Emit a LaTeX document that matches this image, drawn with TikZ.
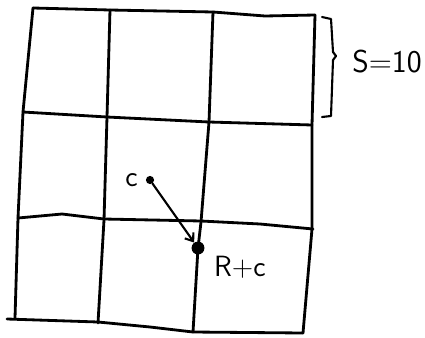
\documentclass[tikz,border=0pt]{standalone}
\usepackage{tikz}
\usetikzlibrary{arrows.meta, positioning}

\begin{document}
\begin{tikzpicture}[x=0.03cm, y=-0.03cm,
    pen/.style={line width=2.4pt, line join=round, line cap=round},
    pt/.style={circle, fill=black, inner sep=0pt, minimum size=#1},
    hand/.style={font=\fontsize{25}{27}\selectfont\sffamily, inner sep=1pt},
]
    \useasboundingbox (0,0) rectangle (425,337);

    % rows of the grid
    \draw[pen] (33,8) -- (110,10) -- (213,12) -- (265,16) -- (315,15);
    \draw[pen] (23,112) -- (107,117) -- (209,122) -- (312,125);
    \draw[pen] (18,218) -- (62,214) -- (104,219) -- (201,221) -- (260,224) -- (313,229);
    \draw[pen] (7,319) -- (98,322) -- (150,327) -- (193,332) -- (303,333);

    % columns of the grid
    \draw[pen] (33,8) -- (23,112) -- (18,218) -- (15,318);
    \draw[pen] (110,10) -- (107,117) -- (104,220) -- (98,323);
    \draw[pen] (213,12) -- (209,122) -- (201,222) -- (198,248) -- (193,332);
    \draw[pen] (315,15) -- (312,125) -- (312,229) -- (303,333);

    % bracket for one cell
    \draw[pen, line width=1.8pt] (322,17) -- (331,19) -- (333,52) -- (336,56) -- (333,60) -- (331,116) -- (322,117);
    \node[hand, font=\fontsize{27}{29}\selectfont\sffamily] (size) at (387,62) {S=10};

    % points and move
    \node[pt=7pt] (c) at (150,180) {};
    \node[hand, left=0.2cm of c] (clabel) {c};
    \node[pt=11pt] (rc) at (198,248) {};
    \node[hand, below right=0.05cm and 0.3cm of rc] (rclabel) {R+c};
    \draw[pen, line width=1.8pt, -{Straight Barb[length=6pt, width=9pt]}] (c) -- (rc);
\end{tikzpicture}
\end{document}
